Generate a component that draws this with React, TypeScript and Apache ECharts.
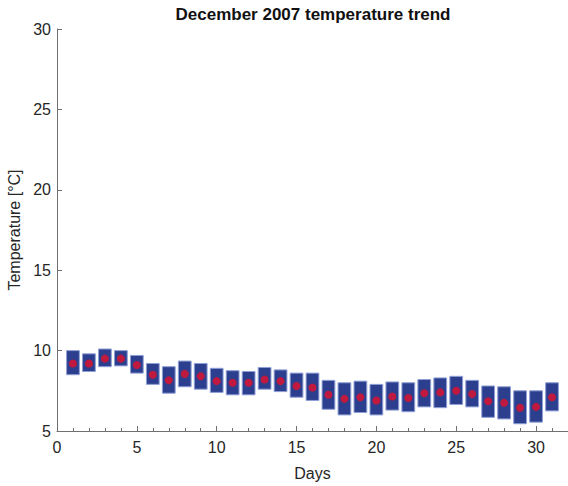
import { useEffect, useRef } from 'react';
import * as echarts from 'echarts';

const days = [1, 2, 3, 4, 5, 6, 7, 8, 9, 10, 11, 12, 13, 14, 15, 16, 17, 18, 19, 20, 21, 22, 23, 24, 25, 26, 27, 28, 29, 30, 31];
const highs = [10.0, 9.8, 10.1, 10.0, 9.7, 9.2, 9.0, 9.35, 9.2, 8.9, 8.75, 8.7, 8.95, 8.8, 8.6, 8.6, 8.15, 8.0, 8.1, 7.9, 8.05, 8.0, 8.2, 8.3, 8.4, 8.15, 7.8, 7.75, 7.5, 7.5, 8.0];
const lows = [8.5, 8.7, 9.0, 9.05, 8.6, 7.9, 7.35, 7.75, 7.6, 7.4, 7.25, 7.25, 7.6, 7.45, 7.1, 6.9, 6.35, 6.0, 6.15, 6.0, 6.3, 6.2, 6.5, 6.45, 6.65, 6.5, 5.85, 5.75, 5.45, 5.55, 6.25];
const means = [9.2, 9.2, 9.5, 9.5, 9.1, 8.5, 8.15, 8.55, 8.4, 8.1, 8.0, 8.0, 8.2, 8.1, 7.8, 7.7, 7.25, 7.0, 7.1, 6.9, 7.15, 7.05, 7.35, 7.4, 7.5, 7.3, 6.85, 6.75, 6.45, 6.5, 7.1];

const axisColor = '#707070';
const textColor = '#262626';
const font = '"Liberation Sans", Arial, sans-serif';

export default function App() {
  const ref = useRef<HTMLDivElement>(null);

  useEffect(() => {
    if (!ref.current) return undefined;
    const chart = echarts.init(ref.current, undefined, { renderer: 'svg' });

    const option = {
      animation: false,
      textStyle: { fontFamily: font },
      title: {
        text: 'December 2007 temperature trend',
        left: 313,
        textAlign: 'center',
        top: 6,
        padding: 0,
        textStyle: { fontSize: 17, fontWeight: 'bold', color: '#111', fontFamily: font }
      },
      grid: { left: 57, right: 0, top: 29, bottom: 55, outerBoundsMode: 'none' },
      xAxis: {
        type: 'value',
        min: 0,
        max: 32,
        interval: 5,
        name: 'Days',
        nameLocation: 'middle',
        nameGap: 34,
        nameTextStyle: { fontSize: 16, color: textColor, fontFamily: font },
        axisLine: { lineStyle: { color: axisColor, width: 1 } },
        axisTick: { inside: true, length: 5, lineStyle: { color: axisColor } },
        minorTick: { show: true, splitNumber: 5, length: 3, lineStyle: { color: axisColor } },
        axisLabel: {
          fontSize: 16,
          color: textColor,
          margin: 8,
          showMaxLabel: false,
          formatter: (v: number) => (v > 30 ? '' : String(v))
        },
        splitLine: { show: false }
      },
      yAxis: {
        type: 'value',
        min: 5,
        max: 30,
        interval: 5,
        name: 'Temperature [°C]',
        nameLocation: 'middle',
        nameGap: 31,
        nameTextStyle: { fontSize: 16, color: textColor, fontFamily: font },
        axisLine: { show: true, lineStyle: { color: axisColor, width: 1 } },
        axisTick: { show: true, inside: true, length: 5, lineStyle: { color: axisColor } },
        axisLabel: { fontSize: 16, color: textColor, margin: 6 },
        splitLine: { show: false }
      },
      series: [
        {
          type: 'custom',
          name: 'Range',
          data: days.map((d, i) => [d, lows[i], highs[i]]),
          encode: { x: 0, y: [1, 2] },
          renderItem: (_params: unknown, api: any) => {
            const x = api.value(0);
            const top = api.coord([x, api.value(2)]);
            const bottom = api.coord([x, api.value(1)]);
            const w = api.size([1, 0])[0] * 0.8;
            return {
              type: 'rect',
              shape: { x: top[0] - w / 2, y: top[1], width: w, height: bottom[1] - top[1] },
              style: { fill: '#2c3f8e', stroke: '#8f9fd6', lineWidth: 1 }
            };
          },
          z: 2
        },
        {
          type: 'scatter',
          name: 'Mean',
          data: days.map((d, i) => [d, means[i]]),
          symbol: 'circle',
          symbolSize: 8,
          itemStyle: { color: '#e5102c' },
          z: 3
        }
      ]
    } as echarts.EChartsOption;

    chart.setOption(option);
    return () => {
      chart.dispose();
    };
  }, []);

  return (
    <div
      ref={ref}
      style={{ position: 'fixed', left: 0, top: 0, width: 568, height: 486, background: '#fff' }}
    />
  );
}
